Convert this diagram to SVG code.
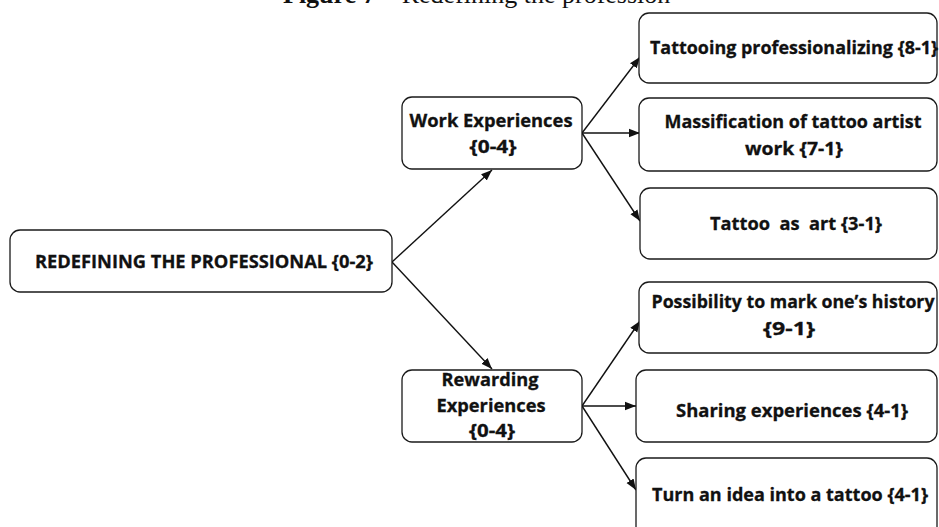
<svg xmlns="http://www.w3.org/2000/svg" width="939" height="527" viewBox="0 0 939 527">
  <style>
    .box { fill: #ffffff; stroke: #1a1a1a; stroke-width: 1.3; }
    .lbl { font-family: "Open Sans", "Noto Sans", "Liberation Sans", sans-serif; font-weight: bold; font-size: 18px; fill: #111111; stroke: #111111; stroke-width: 0.3; text-anchor: middle; white-space: pre; }
    .edge { fill: none; stroke: #111111; stroke-width: 1.4; marker-end: url(#arrow); }
    .title { font-family: "Liberation Serif", "Times New Roman", serif; font-size: 26px; fill: #111111; }
  </style>
  <defs>
    <marker id="arrow" markerUnits="userSpaceOnUse" markerWidth="12" markerHeight="10" viewBox="0 0 12 10" refX="11" refY="5" orient="auto">
      <path d="M0,0.8 L11,5 L0,9.2 Z" fill="#111111"/>
    </marker>
  </defs>

  <rect width="939" height="527" fill="#ffffff"/>

  <!-- caption, cut by the top edge -->
  <text class="title" x="283" y="3"><tspan font-weight="bold">Figure 7</tspan> – Redefining the profession</text>

  <!-- connectors -->
  <g id="connectors">
    <path class="edge" d="M392,262 L492,170"/>
    <path class="edge" d="M392,262 L492,369"/>
    <path class="edge" d="M582,133 L640,57"/>
    <path class="edge" d="M582,133 L640,133"/>
    <path class="edge" d="M582,133 L640,221"/>
    <path class="edge" d="M582,406 L640,321"/>
    <path class="edge" d="M582,406 L636,406"/>
    <path class="edge" d="M582,406 L636,490"/>
  </g>

  <g id="root">
    <rect class="box" x="10" y="230" width="382" height="62" rx="10"/>
    <text class="lbl" x="204" y="268" textLength="338" lengthAdjust="spacingAndGlyphs">REDEFINING THE PROFESSIONAL {0-2}</text>
  </g>

  <g id="work">
    <rect class="box" x="402" y="97" width="180" height="72" rx="10"/>
    <text class="lbl" x="491" y="127" textLength="163" lengthAdjust="spacingAndGlyphs">Work Experiences</text>
    <text class="lbl" x="493" y="153" textLength="47" lengthAdjust="spacingAndGlyphs">{0-4}</text>
  </g>

  <g id="rewarding">
    <rect class="box" x="402" y="370" width="180" height="72" rx="10"/>
    <text class="lbl" x="490" y="386" textLength="97" lengthAdjust="spacingAndGlyphs">Rewarding</text>
    <text class="lbl" x="491" y="412" textLength="109" lengthAdjust="spacingAndGlyphs">Experiences</text>
    <text class="lbl" x="492" y="437" textLength="46" lengthAdjust="spacingAndGlyphs">{0-4}</text>
  </g>

  <g id="professionalizing">
    <rect class="box" x="639" y="13" width="298" height="70" rx="10"/>
    <text class="lbl" x="794" y="54" textLength="288" lengthAdjust="spacingAndGlyphs">Tattooing professionalizing {8-1}</text>
  </g>

  <g id="massification">
    <rect class="box" x="639" y="98" width="298" height="73" rx="10"/>
    <text class="lbl" x="793" y="128" textLength="257" lengthAdjust="spacingAndGlyphs">Massification of tattoo artist</text>
    <text class="lbl" x="794" y="155" textLength="98" lengthAdjust="spacingAndGlyphs">work {7-1}</text>
  </g>

  <g id="art">
    <rect class="box" x="640" y="188" width="297" height="71" rx="10"/>
    <text class="lbl" x="796" y="230" textLength="172" lengthAdjust="spacingAndGlyphs">Tattoo  as  art {3-1}</text>
  </g>

  <g id="history">
    <rect class="box" x="639" y="282" width="298" height="71" rx="10"/>
    <text class="lbl" x="793" y="308" textLength="283" lengthAdjust="spacingAndGlyphs">Possibility to mark one’s history</text>
    <text class="lbl" x="789" y="335" textLength="52" lengthAdjust="spacingAndGlyphs">{9-1}</text>
  </g>

  <g id="sharing">
    <rect class="box" x="636" y="370" width="301" height="72" rx="10"/>
    <text class="lbl" x="792" y="417" textLength="232" lengthAdjust="spacingAndGlyphs">Sharing experiences {4-1}</text>
  </g>

  <g id="idea">
    <rect class="box" x="636" y="458" width="301" height="80" rx="10"/>
    <text class="lbl" x="790" y="501" textLength="276" lengthAdjust="spacingAndGlyphs">Turn an idea into a tattoo {4-1}</text>
  </g>
</svg>
